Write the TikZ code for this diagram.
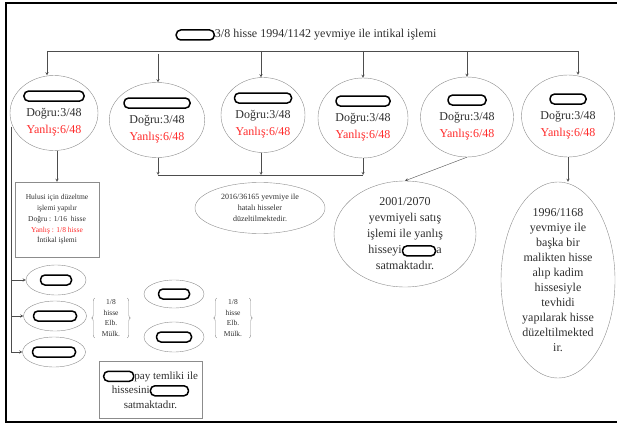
\documentclass[tikz,border=0pt]{standalone}
\usepackage{fontspec}
\setmainfont{Liberation Serif}
\usetikzlibrary{shapes.geometric,decorations.pathreplacing}

\definecolor{cizgi}{HTML}{4D4D4D}
\definecolor{kenar}{HTML}{8C8C8C}
\definecolor{yazi}{HTML}{2E2E2E}
\definecolor{kirmizi}{HTML}{FF2B2B}

% black rounded bar that covers a name
\newcommand{\pill}[1]{\tikz[baseline=-3pt]\draw[black,line width=1.5pt,rounded corners=4.5pt] (0pt,-5pt) rectangle (#1pt,5pt);}

\tikzset{
	kisi/.style={ellipse, draw=kenar, inner sep=0pt, text=yazi, align=center, font=\fontsize{12}{17}\selectfont},
	kutu/.style={rectangle, draw=kenar, inner sep=2pt, text=yazi, align=center},
	metin/.style={text=yazi, align=center, font=\fontsize{12}{16}\selectfont},
	kucuk/.style={font=\fontsize{7.5}{10.8}\selectfont},
	parantez/.style={draw=kenar, decorate, decoration={brace, amplitude=3pt}}
}

\begin{document}
\begin{tikzpicture}[x=1pt,y=-1pt]
			%\draw [lightgray](0,0) grid (617,430);
			\useasboundingbox (0,0) rectangle (617,430);
			
			% Frame
			\draw[line width=2.5pt] (621,3) -- (6,3) -- (6,422) -- (621,422);
			
			% Title
			\node[metin] (baslik) at (306,35) {\pill{38}3/8 hisse 1994/1142 yevmiye ile intikal işlemi};
			
			% Six heirs
			\node[kisi, minimum width=88, minimum height=75] (e1) at (54,113) {\pill{60}\\Doğru:3/48\\\textcolor{kirmizi}{Yanlış:6/48}};
			\node[kisi, minimum width=91, minimum height=75] (e2) at (157,120) {\pill{66}\\Doğru:3/48\\\textcolor{kirmizi}{Yanlış:6/48}};
			\node[kisi, minimum width=84, minimum height=75] (e3) at (263,115) {\pill{57}\\Doğru:3/48\\\textcolor{kirmizi}{Yanlış:6/48}};
			\node[kisi, minimum width=90, minimum height=80] (e4) at (363,118) {\pill{54}\\Doğru:3/48\\\textcolor{kirmizi}{Yanlış:6/48}};
			\node[kisi, minimum width=93, minimum height=80] (e5) at (467,117) {\pill{38}\\Doğru:3/48\\\textcolor{kirmizi}{Yanlış:6/48}};
			\node[kisi, minimum width=93, minimum height=82] (e6) at (568,116) {\pill{36}\\Doğru:3/48\\\textcolor{kirmizi}{Yanlış:6/48}};
			
			% Line under the title and arrows to the heirs
			\coordinate (h1) at (47,51);
			\coordinate (h2) at (158,54);
			\coordinate (h3) at (261,51);
			\coordinate (h4) at (363,51);
			\coordinate (h5) at (467,51);
			\coordinate (h6) at (578,51);
			\draw[cizgi] (h1) -- (h6);
			\draw[-stealth][cizgi] (h1) -- (h1 |- e1.north);
			\draw[-stealth][cizgi] (h2) -- (h2 |- e2.north);
			\draw[-stealth][cizgi] (h3) -- (h3 |- e3.north);
			\draw[-stealth][cizgi] (h4) -- (h4 |- e4.north);
			\draw[-stealth][cizgi] (h5) -- (h5 |- e5.north);
			\draw[-stealth][cizgi] (h6) -- (h6 |- e6.north);
			
			% Correction box under the first heir
			\node[kutu, kucuk, minimum width=84, minimum height=75] (r1) at (57,219.5) {Hulusi için düzeltme\\işlemi yapılır\\Doğru : 1/16\ \ hisse\\\textcolor{kirmizi}{Yanlış : 1/8 hisse}\\İntikal işlemi};
			\draw[-stealth][cizgi] (e1.south -| r1.north) -- (r1.north);
			
			% Joint line under heirs 2 to 4
			\coordinate (a2) at (158,175);
			\coordinate (a3) at (261,175);
			\coordinate (a4) at (363,175);
			\draw[-stealth][cizgi] (a2 |- e2.south) -- (a2);
			\draw[-stealth][cizgi] (a3 |- e3.south) -- (a3);
			\draw[-stealth][cizgi] (a4 |- e4.south) -- (a4);
			\draw[cizgi] (a2) -- (a4);
			
			% Note on the wrong shares
			\node[kisi, minimum width=130, minimum height=51, font=\fontsize{8}{11}\selectfont] (e9) at (260,208) {2016/36165 yevmiye ile\\hatalı hisseler\\düzeltilmektedir.};
			
			% Sale of the fifth heir
			\node[kisi, minimum width=142, minimum height=106] (e8) at (405,234) {};
			\node[metin] (e8t) at (e8) {2001/2070\\yevmiyeli satış\\işlemi ile yanlış\\hisseyi\pill{33}a\\satmaktadır.};
			\draw[-stealth][cizgi] (e5.south) -- (e8.north);
			
			% Merge of the sixth heir
			\node[kisi, minimum width=114, minimum height=196] (e7) at (558,280) {};
			\node[metin, font=\fontsize{12}{15}\selectfont] (e7t) at (e7) {1996/1168\\yevmiye ile\\başka bir\\malikten hisse\\alıp kadim\\hissesiyle\\tevhidi\\yapılarak hisse\\düzeltilmekted\\ir.};
			\draw[-stealth][cizgi] (e6.south) -- (e6.south |- e7.north);
			
			% Three owners on the left
			\node[kisi, minimum width=60, minimum height=30] (l1) at (56,280) {\pill{31}};
			\node[kisi, minimum width=57, minimum height=30] (l2) at (55,316) {\pill{43}};
			\node[kisi, minimum width=60, minimum height=30] (l3) at (54,352) {\pill{43}};
			\coordinate (s0) at (11,127);
			\draw[-stealth][cizgi] (s0) |- (l1.west);
			\draw[-stealth][cizgi] (s0) |- (l2.west);
			\draw[-stealth][cizgi] (s0) |- (l3.west);
			
			% Shares in braces
			\node[kucuk, text=yazi, align=center, inner sep=1pt] (k1) at (111,318) {1/8\\hisse\\Elb.\\Mülk.};
			\draw[parantez] ([xshift=-6pt]k1.south west) -- ([xshift=-6pt]k1.north west);
			\draw[parantez] ([xshift=6pt]k1.north east) -- ([xshift=6pt]k1.south east);
			\node[kisi, minimum width=60, minimum height=28] (m1) at (174,294) {\pill{31}};
			\node[kisi, minimum width=60, minimum height=30] (m2) at (174,337) {\pill{35}};
			\node[kucuk, text=yazi, align=center, inner sep=1pt] (k2) at (233,318) {1/8\\hisse\\Elb.\\Mülk.};
			\draw[parantez] ([xshift=-6pt]k2.south west) -- ([xshift=-6pt]k2.north west);
			\draw[parantez] ([xshift=6pt]k2.north east) -- ([xshift=6pt]k2.south east);
			
			% Transfer box
			\node[kutu, font=\fontsize{11}{14.5}\selectfont, minimum width=103, minimum height=57] (bx) at (150.5,389.5) {\pill{30}pay temliki ile\\hissesini\pill{38}\\satmaktadır.};
\end{tikzpicture}
\end{document}
